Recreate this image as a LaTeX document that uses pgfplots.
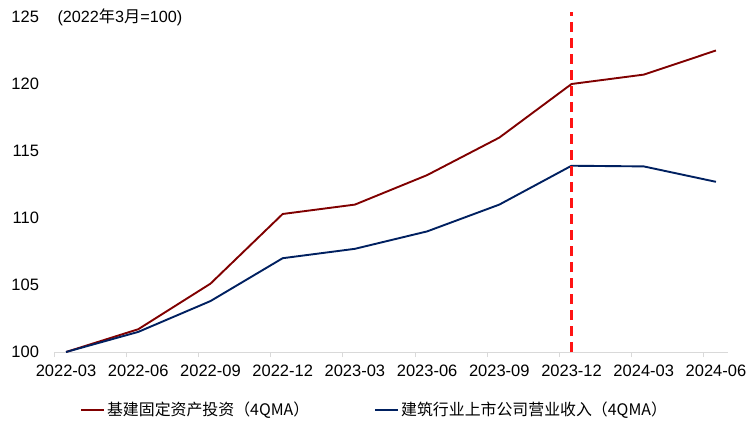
\documentclass[border=0pt]{standalone}
\usepackage{fontspec}
\setmainfont{Liberation Sans}
\newfontfamily\cjk{Noto Sans CJK SC}
\usepackage{pgfplots}
\pgfplotsset{compat=1.18}
\definecolor{jjred}{RGB}{128,0,0}
\definecolor{jjblue}{RGB}{0,32,96}
\definecolor{axgray}{RGB}{217,217,217}
\definecolor{dashred}{RGB}{255,20,20}

\begin{document}
\begin{tikzpicture}
\begin{axis}[
  name=ax,
  at={(0,0)}, anchor=south west,
  width=674bp, height=335bp, scale only axis,
  xmin=-0.5, xmax=27.5, ymin=100, ymax=125,
  axis x line*=bottom, axis y line*=left,
  x axis line style={axgray, line width=1bp, -},
  y axis line style={draw=none},
  xtick={0,3,...,27},
  xticklabels={2022-03,2022-06,2022-09,2022-12,2023-03,2023-06,2023-09,2023-12,2024-03,2024-06},
  minor xtick={-0.5,2.5,...,26.5},
  minor x tick style={axgray, line width=1bp},
  major x tick style={draw=none},
  ytick={100,105,...,125},
  ytick style={draw=none},
  major tick length=0pt, minor tick length=5bp, tick align=outside,
  tick label style={font=\fontsize{16.5bp}{18bp}\selectfont},
  xticklabel style={yshift=-9.5bp},
  yticklabel style={xshift=-11.5bp},
  /pgf/number format/assume math mode=true,
  clip=false,
  legend style={draw=none, fill=none, at={(rel axis cs:0,0)}, anchor=north west,
    xshift=26bp, yshift=-48bp, legend columns=2, inner sep=0pt,
    /tikz/every even column/.append style={column sep=63bp},
    font=\cjk\fontsize{15.9bp}{18bp}\selectfont},
  legend cell align=left,
  legend image code/.code={\draw[#1] (0bp,0bp) -- (23bp,0bp);},
]
\addplot[jjred, line width=1.9bp] coordinates {
  (0,100) (3,101.7) (6,105.1) (9,110.3) (12,111.0) (15,113.2) (18,116.0) (21,120.0) (24,120.7) (27,122.5)};
\addlegendentry{基建固定资产投资（4QMA）}
\addplot[jjblue, line width=1.9bp] coordinates {
  (0,100) (3,101.5) (6,103.8) (9,107.0) (12,107.7) (15,109.0) (18,111.0) (21,113.9) (24,113.85) (27,112.7)};
\addlegendentry{建筑行业上市公司营业收入（4QMA）}
\addplot[dashred, line width=2.3bp, dash pattern=on 10bp off 6bp, forget plot] coordinates {(21,100) (21,125.4)};
\node[anchor=west, font=\fontsize{16.2bp}{18bp}\selectfont] at (axis cs:-0.5,125) {(2022{\cjk 年}3{\cjk 月}=100)};
\end{axis}
\pgfresetboundingbox
\path[use as bounding box] ([xshift=-54bp,yshift=-79bp]ax.south west) rectangle ([xshift=21bp,yshift=17bp]ax.north east);
\end{tikzpicture}
\end{document}
